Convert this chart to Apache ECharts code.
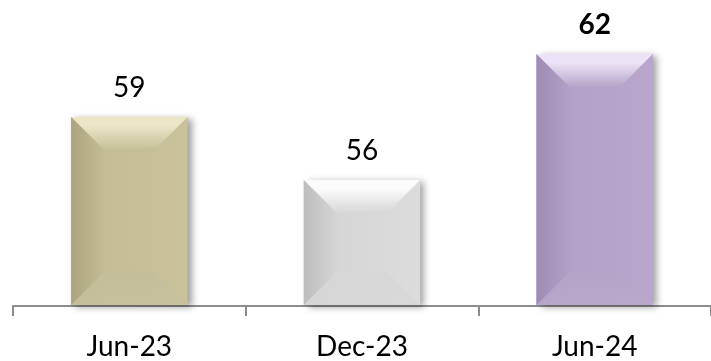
<!DOCTYPE html>
<html>
<head>
<meta charset="utf-8">
<script src="https://cdn.jsdelivr.net/npm/echarts@6/dist/echarts.min.js"></script>
<style>
  html, body { margin: 0; padding: 0; background: #ffffff; }
  #chart { width: 711px; height: 361px; }
</style>
</head>
<body>
<div id="chart"></div>
<script>
// Survey periods and their scores
const categories = ['Jun-23', 'Dec-23', 'Jun-24'];
const scores = [59, 56, 62];
const axisMin = 50;
const axisMax = 64;

// Fill colours per period: base, darker edge, highlight
const palette = [
  { base: '#c4bd97', dark: '#aba47e', light: '#ece6c8' },
  { base: '#d6d6d6', dark: '#bdbdbd', light: '#fbfbfb' },
  { base: '#b3a2c7', dark: '#9d8bb4', light: '#ece4f6' }
];

const chart = echarts.init(document.getElementById('chart'), null, { renderer: 'canvas' });

// Bevelled bar: body with horizontal shading, then lighter top and bottom facets
function renderBevelBar(params, api) {
  const idx = params.dataIndex;
  const value = api.value(1);
  const topPt = api.coord([api.value(0), value]);
  const basePt = api.coord([api.value(0), axisMin]);
  const bandW = api.size([1, 0])[0];
  const w = bandW * 0.5;
  const x0 = topPt[0] - w / 2;
  const x1 = topPt[0] + w / 2;
  const y0 = topPt[1];
  const y1 = basePt[1] - 1;
  const h = y1 - y0;
  const d = Math.min(34, h / 2, w / 2);
  const c = palette[idx];
  const lastIdx = scores.length - 1;

  const G = echarts.graphic.LinearGradient;
  return {
    type: 'group',
    children: [
      {
        type: 'rect',
        shape: { x: x0, y: y0, width: w, height: h },
        style: {
          fill: new G(0, 0, 1, 0, [
            { offset: 0, color: c.dark },
            { offset: 0.3, color: c.base },
            { offset: 1, color: echarts.color.lift(c.base, -0.03) }
          ]),
          shadowColor: 'rgba(0,0,0,0.38)',
          shadowBlur: 7,
          shadowOffsetX: 4,
          shadowOffsetY: 2
        }
      },
      {
        // left facet
        type: 'polygon',
        shape: { points: [[x0, y0], [x0 + d, y0 + d], [x0 + d, y1 - d], [x0, y1]] },
        style: {
          fill: new G(0, 0, 1, 0, [
            { offset: 0, color: c.dark },
            { offset: 1, color: c.base }
          ]),
          opacity: 0.85
        }
      },
      {
        // top facet
        type: 'polygon',
        shape: { points: [[x0, y0], [x1, y0], [x1 - d, y0 + d], [x0 + d, y0 + d]] },
        style: {
          fill: new G(0, 0, 0, 1, [
            { offset: 0, color: c.light },
            { offset: 0.25, color: c.light },
            { offset: 1, color: c.base }
          ])
        }
      },
      {
        // bottom facet
        type: 'polygon',
        shape: { points: [[x0, y1], [x1, y1], [x1 - d, y1 - d], [x0 + d, y1 - d]] },
        style: {
          fill: new G(0, 1, 0, 0, [
            { offset: 0, color: echarts.color.lift(c.base, 0.07) },
            { offset: 1, color: echarts.color.lift(c.base, 0.03) }
          ]),
          opacity: 0.9
        }
      },
      {
        type: 'text',
        x: topPt[0],
        y: y0 - 29,
        style: {
          text: String(value),
          fill: '#000000',
          font: (idx === lastIdx ? 'bold ' : '') + '28px Lato',
          align: 'center',
          verticalAlign: 'middle'
        }
      }
    ]
  };
}

chart.setOption({
  animation: false,
  backgroundColor: '#ffffff',
  grid: { left: 13, width: 702, top: 12, bottom: 53, containLabel: false },
  xAxis: {
    type: 'category',
    data: categories,
    boundaryGap: true,
    axisLine: { show: true, lineStyle: { color: '#8c8c8c', width: 2 } },
    axisTick: { show: true, length: 10, lineStyle: { color: '#8c8c8c', width: 2 } },
    axisLabel: {
      margin: 27,
      color: '#000000',
      fontFamily: 'Lato',
      fontSize: 28
    },
    splitLine: { show: false }
  },
  yAxis: {
    type: 'value',
    min: axisMin,
    max: axisMax,
    show: false
  },
  series: [{
    type: 'custom',
    renderItem: renderBevelBar,
    data: scores.map((v, i) => [i, v]),
    clip: false
  }]
});
</script>
</body>
</html>
